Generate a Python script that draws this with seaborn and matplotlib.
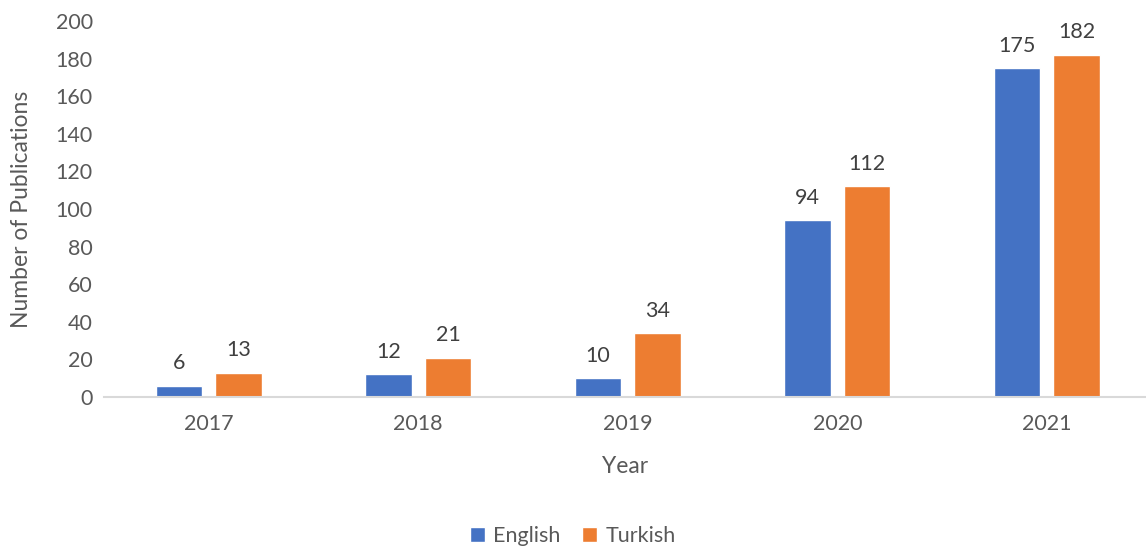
import matplotlib
matplotlib.use("Agg")
import matplotlib.pyplot as plt
import seaborn as sns
import pandas as pd

# dados
anos = ["2017", "2018", "2019", "2020", "2021"]
ingles = [6, 12, 10, 94, 175]
turco = [13, 21, 34, 112, 182]
idiomas = ["English", "Turkish"]
cores = ["#4472C4", "#ED7D31"]

sns.set_theme(style="white")
plt.rcParams['font.family'] = ['Lato', 'DejaVu Sans']
cinza = "#595959"

dados = pd.DataFrame({
    "Year": anos * 2,
    "Publications": ingles + turco,
    "Language": [idiomas[0]] * len(anos) + [idiomas[1]] * len(anos),
})

fig = plt.figure(figsize=(11.46, 5.5), dpi=100)
ax = fig.add_axes([104 / 1146, 1 - 397 / 550, (1146 - 104) / 1146, (397 - 21) / 550])

sns.barplot(data=dados, x="Year", y="Publications", hue="Language",
            palette=cores, saturation=1, width=0.571, gap=0.22, ax=ax, legend=True)

for cont in ax.containers:
    ax.bar_label(cont, padding=9, fontsize=15.5, color="#404040")

ax.set_xlim(-0.5, -0.5 + 1042 / 209.5)
ax.set_ylim(0, 200)
ax.set_yticks(range(0, 201, 20))
ax.tick_params(axis="both", labelsize=15.5, colors=cinza, length=0, pad=8)
ax.tick_params(axis="x", pad=12)

for lado in ["top", "right", "left"]:
    ax.spines[lado].set_visible(False)
ax.spines["bottom"].set_color("#D9D9D9")
ax.spines["bottom"].set_linewidth(1.5)

ax.set_xlabel("Year", fontsize=16.5, color=cinza, labelpad=16)
ax.set_ylabel("Number of Publications", fontsize=16.5, color=cinza, labelpad=17)

ax.legend(loc="center", bbox_to_anchor=(573 / 1146, 14 / 550),
          bbox_transform=fig.transFigure, ncol=2, frameon=False,
          fontsize=15.5, handlelength=0.7, handleheight=0.7,
          handletextpad=0.4, columnspacing=1.0, labelcolor=cinza)

fig.savefig("out.png", dpi=100)
